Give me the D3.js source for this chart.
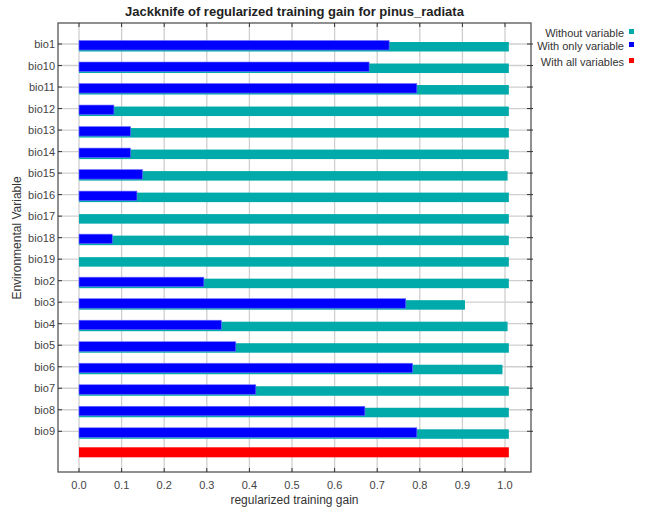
<!DOCTYPE html>
<html><head><meta charset="utf-8">
<script src="https://cdn.jsdelivr.net/npm/d3@7"></script>
<style>
body{margin:0;background:#fff;}
text{font-family:"Liberation Sans",Arial,sans-serif;}
</style></head>
<body><svg id="c" width="651" height="509"></svg>
<script>
const categories = ["bio1","bio10","bio11","bio12","bio13","bio14","bio15","bio16","bio17","bio18","bio19","bio2","bio3","bio4","bio5","bio6","bio7","bio8","bio9"];
const withoutVariable = [1.009,1.009,1.009,1.009,1.009,1.009,1.006,1.009,1.009,1.009,1.009,1.009,0.906,1.006,1.009,0.994,1.009,1.009,1.009];
const withOnlyVariable = [0.728,0.681,0.793,0.082,0.121,0.121,0.149,0.136,0,0.078,0,0.293,0.767,0.334,0.368,0.783,0.415,0.671,0.793];
const withAllVariables = 1.009;
const xTicks = [0.0,0.1,0.2,0.3,0.4,0.5,0.6,0.7,0.8,0.9,1.0];
const legendLabels = ["Without variable","With only variable","With all variables"];
const colors = ["#00aaaa","#0000ff","#ff0000"];

const svg = d3.select("#c");
const L=58, R=531, T=23, B=472;
const x = d3.scaleLinear().domain([-0.0493, 1.0610]).range([L, R]);
const rows = categories.concat(["__all"]);
const y = d3.scalePoint().domain(rows).range([44, 452.8]);

// grid
const g = svg.append("g");
g.selectAll(".vg").data(xTicks).join("line")
  .attr("x1",d=>x(d)).attr("x2",d=>x(d)).attr("y1",T).attr("y2",B)
  .attr("stroke","#cfcfcf").attr("stroke-width",1.3);
g.selectAll(".hg").data(categories).join("line")
  .attr("x1",L).attr("x2",R).attr("y1",d=>y(d)).attr("y2",d=>y(d))
  .attr("stroke","#cfcfcf").attr("stroke-width",1.3);

// bars
g.selectAll(".tb").data(categories).join("rect")
  .attr("x",x(0)).attr("y",d=>y(d)-2).attr("height",9.5)
  .attr("width",(d,i)=>x(withoutVariable[i])-x(0)).attr("fill",colors[0]);
g.selectAll(".bb").data(categories).join("rect")
  .attr("x",x(0)).attr("y",d=>y(d)-3.5).attr("height",9.5)
  .attr("width",(d,i)=>Math.max(0,x(withOnlyVariable[i])-x(0))).attr("fill",colors[1])
  .attr("stroke","#6f6fff").attr("stroke-width",(d,i)=>withOnlyVariable[i]>0?0.6:0);
g.append("rect").attr("x",x(0)).attr("y",y("__all")-5.5).attr("height",10)
  .attr("width",x(withAllVariables)-x(0)).attr("fill",colors[2]);

// frame
svg.append("rect").attr("x",L).attr("y",T).attr("width",R-L).attr("height",B-T)
  .attr("fill","none").attr("stroke","#555").attr("stroke-width",1.3);

// ticks (inward)
svg.selectAll(".tt").data(xTicks).join("line")
  .attr("x1",d=>x(d)).attr("x2",d=>x(d)).attr("y1",T).attr("y2",T+4).attr("stroke","#333");
svg.selectAll(".bt").data(xTicks).join("line")
  .attr("x1",d=>x(d)).attr("x2",d=>x(d)).attr("y1",B-4).attr("y2",B).attr("stroke","#333");
svg.selectAll(".lt").data(categories).join("line")
  .attr("x1",L).attr("x2",L+4).attr("y1",d=>y(d)).attr("y2",d=>y(d)).attr("stroke","#333");
svg.selectAll(".rt").data(categories).join("line")
  .attr("x1",R-4).attr("x2",R+2).attr("y1",d=>y(d)).attr("y2",d=>y(d)).attr("stroke","#333");

// labels
svg.selectAll(".xl").data(xTicks).join("text")
  .attr("x",d=>x(d)).attr("y",489).attr("text-anchor","middle")
  .attr("font-size",11).attr("fill","#444").text(d=>d.toFixed(1));
svg.selectAll(".yl").data(categories).join("text")
  .attr("x",55).attr("y",d=>y(d)+4).attr("text-anchor","end")
  .attr("font-size",11).attr("fill","#444").text(d=>d);

svg.append("text").attr("x",(L+R)/2).attr("y",16).attr("text-anchor","middle")
  .attr("font-size",13).attr("font-weight","bold").attr("fill","#222")
  .text("Jackknife of regularized training gain for pinus_radiata");
svg.append("text").attr("x",(L+R)/2).attr("y",504).attr("text-anchor","middle")
  .attr("font-size",12).attr("fill","#333").text("regularized training gain");
svg.append("text").attr("transform","translate(21,238) rotate(-90)").attr("text-anchor","middle")
  .attr("font-size",12).attr("fill","#333").text("Environmental Variable");

// legend
const lg = svg.append("g");
const ly = [37, 50, 66];
legendLabels.forEach((t,i)=>{
  lg.append("text").attr("x",624).attr("y",ly[i]).attr("text-anchor","end")
    .attr("font-size",11).attr("fill","#333").text(t);
  lg.append("rect").attr("x",629).attr("y",ly[i]-8).attr("width",5).attr("height",5).attr("fill",colors[i]);
});
</script></body></html>
